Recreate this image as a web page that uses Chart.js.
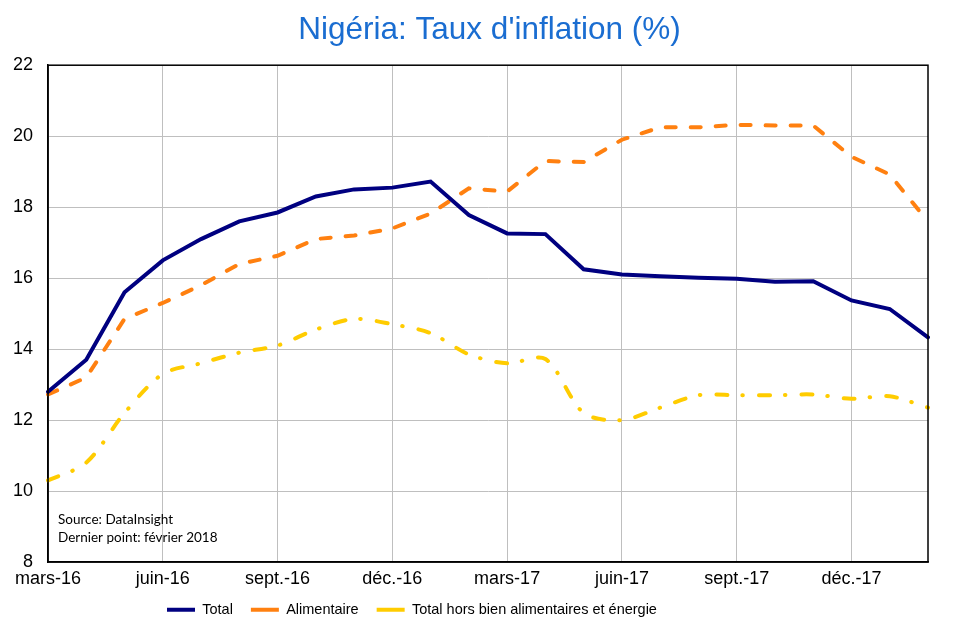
<!DOCTYPE html>
<html>
<head>
<meta charset="utf-8">
<script src="https://cdn.jsdelivr.net/npm/chart.js@4/dist/chart.umd.min.js"></script>
<style>
  body { margin: 0; background: #fff; }
  #wrap { width: 979px; height: 635px; }
</style>
</head>
<body>
<div id="wrap"><canvas id="chart"></canvas></div>
<script>
const months = ['mars-16', 'avr.-16', 'mai-16', 'juin-16', 'juil.-16', 'août-16', 'sept.-16', 'oct.-16',
    'nov.-16', 'déc.-16', 'janv.-17', 'févr.-17', 'mars-17', 'avr.-17', 'mai-17', 'juin-17', 'juil.-17',
    'août-17', 'sept.-17', 'oct.-17', 'nov.-17', 'déc.-17', 'janv.-18', 'févr.-18'];

const total = [12.8, 13.7, 15.6, 16.5, 17.1, 17.6, 17.85, 18.3, 18.5, 18.55, 18.72, 17.78,
    17.26, 17.24, 16.25, 16.1, 16.05, 16.01, 15.98, 15.9, 15.91, 15.37, 15.13, 14.33];
const alimentaire = [12.72, 13.2, 14.85, 15.3, 15.8, 16.4, 16.63, 17.1, 17.2, 17.4, 17.82, 18.53,
    18.44, 19.3, 19.27, 19.9, 20.25, 20.25, 20.32, 20.3, 20.3, 19.42, 18.92, 17.59];
const horsAlimEnergie = [10.3, 10.8, 12.2, 13.3, 13.6, 13.9, 14.1, 14.55, 14.85, 14.7, 14.45, 13.85,
    13.6, 13.72, 12.2, 12.0, 12.35, 12.7, 12.7, 12.7, 12.72, 12.6, 12.67, 12.35];

const yMin = 8, yMax = 22, yStep = 2;
const notes = ['Source: DataInsight', 'Dernier point: février 2018'];

const axisFont = { family: '"Liberation Sans", Arial, sans-serif', size: 18 };

// cadre noir autour de la zone du graphique + la note source
const framePlugin = {
    id: 'frame',
    afterDatasetsDraw(chart) {
        const { ctx, chartArea: a } = chart;
        ctx.save();
        ctx.strokeStyle = '#000';
        ctx.lineWidth = 1.5;
        ctx.strokeRect(a.left, a.top, a.right - a.left, a.bottom - a.top);
        ctx.fillStyle = '#000';
        ctx.font = '13.5px Lato, "Open Sans", sans-serif';
        ctx.textBaseline = 'middle';
        ctx.fillText(notes[0], a.left + 10, a.bottom - 42);
        ctx.fillText(notes[1], a.left + 10, a.bottom - 24);
        ctx.restore();
    },
    afterUpdate(chart) {
        // le titre est centré sur toute la largeur, pas seulement sur la zone moins le padding droit
        chart.titleBlock.left = 0;
        chart.titleBlock.right = chart.width;
        // la légende de l'original n'est pas centrée : on la cale à gauche
        const lg = chart.legend;
        const pad = lg.options.labels.padding;
        const start = (lg.left + pad + lg.right - lg.lineWidths[0]) / 2;
        const dx = 167 - start;
        lg.left += dx;
        lg.right += dx;
        lg.top -= 11;
        lg.bottom -= 11;
    }
};

new Chart(document.getElementById('chart'), {
    type: 'line',
    data: {
        labels: months,
        datasets: [
            {
                label: 'Total',
                data: total,
                borderColor: '#000080',
                borderWidth: 4,
                borderCapStyle: 'round',
                pointRadius: 0,
                tension: 0
            },
            {
                label: 'Alimentaire',
                data: alimentaire,
                borderColor: '#ff8010',
                borderWidth: 4,
                borderDash: [10, 15],
                borderCapStyle: 'round',
                pointRadius: 0,
                tension: 0
            },
            {
                label: 'Total hors bien alimentaires et énergie',
                data: horsAlimEnergie,
                borderColor: '#ffcc00',
                borderWidth: 4,
                borderDash: [11, 15, 0.5, 16],
                borderCapStyle: 'round',
                pointRadius: 0,
                tension: 0.3
            }
        ]
    },
    options: {
        responsive: true,
        maintainAspectRatio: false,
        animation: false,
        layout: { padding: { left: 0, right: 51, top: 0, bottom: -3.1 } },
        plugins: {
            title: {
                display: true,
                text: "Nigéria: Taux d'inflation (%)",
                color: '#1a6dd1',
                font: { family: '"Liberation Sans", Arial, sans-serif', size: 31.5, weight: 'normal' },
                padding: { top: 11.4, bottom: 16 }
            },
            legend: {
                position: 'bottom',
                labels: {
                    usePointStyle: true,
                    pointStyle: 'line',
                    pointStyleWidth: 28,
                    padding: 18,
                    color: '#000',
                    font: { family: '"Liberation Sans", Arial, sans-serif', size: 14.5 }
                }
            },
            tooltip: { enabled: false }
        },
        scales: {
            x: {
                offset: false,
                grid: {
                    drawTicks: false,
                    color: ctx => (ctx.index % 3 === 0 ? '#bfbfbf' : 'rgba(0,0,0,0)')
                },
                border: { color: '#000', width: 1.5 },
                ticks: {
                    autoSkip: false,
                    maxRotation: 0,
                    padding: 6,
                    color: '#000',
                    font: axisFont,
                    callback: function (v, i) { return i % 3 === 0 ? this.getLabelForValue(v) : ''; }
                }
            },
            y: {
                min: yMin,
                max: yMax,
                grid: { drawTicks: false, color: '#bfbfbf' },
                border: { color: '#000', width: 1.5 },
                ticks: {
                    stepSize: yStep,
                    padding: 15,
                    color: '#000',
                    font: axisFont
                },
                afterFit: scale => { scale.width = 48; }
            }
        }
    },
    plugins: [framePlugin]
});
</script>
</body>
</html>
